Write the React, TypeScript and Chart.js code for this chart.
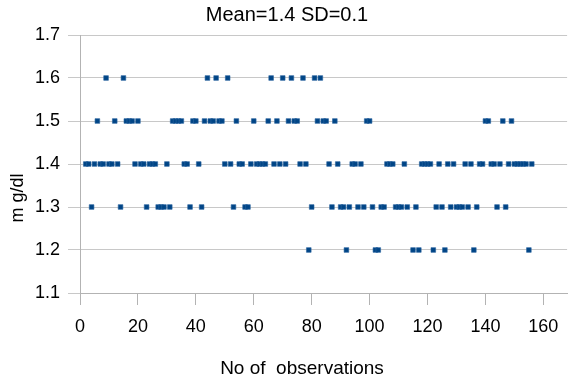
import React, { useEffect, useRef } from "react";
import { Chart, registerables } from "chart.js";

Chart.register(...registerables);

const chartTitle = "Mean=1.4 SD=0.1";
const xAxisTitle = "No of  observations";
const yAxisTitle = "m g/dl";

// mg/dl value for observation 1..156 (null = no visible point)
const mgdl: (number | null)[] = [
  null, 1.4, 1.4, 1.3, 1.4, 1.5, 1.4, 1.4, 1.6, 1.4, // 1-10
  1.4, 1.5, 1.4, 1.3, 1.6, 1.5, 1.5, 1.5, 1.4, 1.5, // 11-20
  1.4, 1.4, 1.3, 1.4, 1.4, 1.4, 1.3, 1.3, 1.3, 1.4, // 21-30
  1.3, 1.5, 1.5, 1.5, 1.5, 1.4, 1.4, 1.3, 1.5, 1.5, // 31-40
  1.4, 1.3, 1.5, 1.6, 1.5, 1.5, 1.6, 1.5, 1.5, 1.4, // 41-50
  1.6, 1.4, 1.3, 1.5, 1.4, 1.4, 1.3, 1.3, 1.4, 1.5, // 51-60
  1.4, 1.4, 1.4, 1.4, 1.5, 1.6, 1.4, 1.5, 1.4, 1.6, // 61-70
  1.4, 1.5, 1.6, 1.5, 1.5, 1.4, 1.6, 1.4, 1.2, 1.3, // 71-80
  1.6, 1.5, 1.6, 1.5, 1.5, 1.4, 1.3, 1.5, 1.4, 1.3, // 81-90
  1.3, 1.2, 1.3, 1.4, 1.4, 1.3, 1.4, 1.3, 1.5, 1.5, // 91-100
  1.3, 1.2, 1.2, 1.3, 1.3, 1.4, 1.4, 1.4, 1.3, 1.3, // 101-110
  1.3, 1.4, 1.3, null, 1.2, 1.3, 1.2, 1.4, 1.4, 1.4, // 111-120
  1.4, 1.2, 1.3, 1.4, 1.3, 1.2, 1.4, 1.3, 1.4, 1.3, // 121-130
  1.3, 1.3, 1.4, 1.3, 1.4, 1.2, 1.3, 1.4, 1.4, 1.5, // 131-140
  1.5, 1.4, 1.4, 1.3, 1.4, 1.5, 1.3, 1.4, 1.5, 1.4, // 141-150
  1.4, 1.4, 1.4, 1.4, 1.2, 1.4, // 151-156
];

const xMin = 0;
const xMax = 168.2;
const xStep = 20;
const yMin = 1.1;
const yMax = 1.7;
const yStep = 0.1;

const FONT = '"Liberation Sans", Arial, sans-serif';

const textPlugin = {
  id: "textPlugin",
  afterDraw(chart: any) {
    const ctx = chart.ctx;
    ctx.save();
    ctx.fillStyle = "#000";
    ctx.textAlign = "center";
    ctx.textBaseline = "middle";
    ctx.font = `20px ${FONT}`;
    ctx.fillText(chartTitle, 287, 15);
    ctx.font = `19px ${FONT}`;
    ctx.fillText(xAxisTitle, 302, 369);
    ctx.font = `18px ${FONT}`;
    ctx.translate(18, 198);
    ctx.rotate(-Math.PI / 2);
    ctx.fillText(yAxisTitle, 0, 0);
    ctx.restore();
  },
};

export default function App() {
  const ref = useRef<HTMLCanvasElement | null>(null);

  useEffect(() => {
    if (!ref.current) return;
    const points = mgdl
      .map((v, i) => (v === null ? null : { x: i + 1, y: v }))
      .filter((p) => p !== null) as { x: number; y: number }[];

    const chart = new Chart(ref.current, {
      type: "scatter",
      data: {
        datasets: [
          {
            data: points,
            pointStyle: "rect",
            pointRadius: 3.3,
            pointHoverRadius: 3.3,
            backgroundColor: "#004586",
            borderColor: "#2a64a0",
            borderWidth: 0.6,
          },
        ],
      },
      options: {
        responsive: false,
        animation: false,
        events: [],
        layout: { padding: { top: 35, left: 0, right: 0, bottom: 0 } },
        plugins: {
          legend: { display: false },
          tooltip: { enabled: false },
          title: { display: false },
        },
        scales: {
          x: {
            type: "linear",
            min: xMin,
            max: xMax,
            afterFit(scale: any) {
              scale.height = 88;
            },
            ticks: {
              stepSize: xStep,
              includeBounds: false,
              color: "#000",
              font: { family: FONT, size: 18 },
              padding: 11,
              maxRotation: 0,
              autoSkip: false,
            },
            grid: {
              display: true,
              drawOnChartArea: false,
              drawTicks: true,
              tickLength: 12,
              color: "#b3b3b3",
            },
            border: { display: true, color: "#b3b3b3", width: 1 },
          },
          y: {
            type: "linear",
            min: yMin,
            max: yMax,
            afterFit(scale: any) {
              scale.width = 80;
            },
            ticks: {
              stepSize: yStep,
              color: "#000",
              font: { family: FONT, size: 18 },
              padding: 8,
              callback: (v: any) => Number(v).toFixed(1),
            },
            grid: {
              display: true,
              drawTicks: true,
              tickLength: 12,
              color: "#c8c8c8",
            },
            border: { display: true, color: "#b3b3b3", width: 1 },
          },
        },
      },
      plugins: [textPlugin],
    } as any);
    return () => chart.destroy();
  }, []);

  return (
    <div style={{ position: "absolute", left: 0, top: 0, width: 571, height: 381, background: "#fff" }}>
      <canvas ref={ref} width={571} height={381} />
    </div>
  );
}
